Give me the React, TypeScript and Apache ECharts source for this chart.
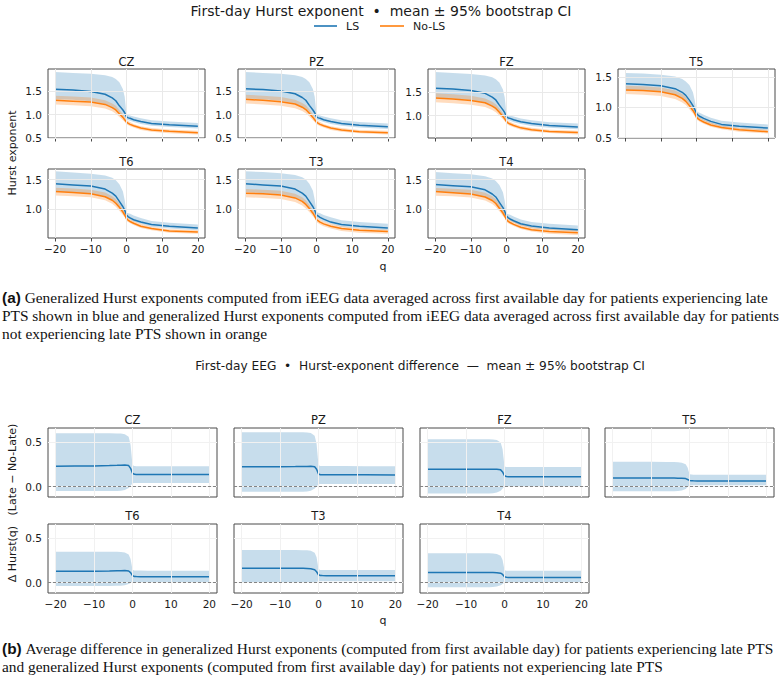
import React, { useEffect, useRef } from "react";
import * as echarts from "echarts";

// ---------- data ----------
const Q = [-20, -15, -10, -6, -4, -3, -2, -1, -0.5, 0, 0.5, 1, 2, 4, 7, 12, 20];
const X_TICKS = [-20, -10, 0, 10, 20];

// Part (a): generalized Hurst exponents, LS (late PTS) vs No-LS
const CZ_LS_MEAN = [1.55, 1.53, 1.50, 1.44, 1.36, 1.30, 1.19, 1.10, 1.04, 0.95, 0.93, 0.92, 0.89, 0.85, 0.81, 0.78, 0.75];
const CZ_LS_HI = [1.92, 1.90, 1.88, 1.85, 1.81, 1.77, 1.70, 1.55, 1.38, 1.00, 0.99, 0.98, 0.96, 0.92, 0.88, 0.85, 0.82];
const CZ_LS_LO = [1.33, 1.32, 1.29, 1.23, 1.16, 1.11, 1.04, 0.97, 0.93, 0.90, 0.88, 0.87, 0.84, 0.80, 0.76, 0.73, 0.70];
const CZ_NO_MEAN = [1.31, 1.29, 1.27, 1.22, 1.15, 1.10, 1.02, 0.94, 0.89, 0.84, 0.81, 0.79, 0.76, 0.71, 0.67, 0.64, 0.61];
const CZ_NO_HI = [1.41, 1.39, 1.37, 1.31, 1.24, 1.19, 1.10, 1.01, 0.95, 0.89, 0.86, 0.84, 0.80, 0.75, 0.71, 0.68, 0.65];
const CZ_NO_LO = [1.22, 1.20, 1.18, 1.13, 1.07, 1.02, 0.95, 0.88, 0.84, 0.79, 0.77, 0.75, 0.72, 0.67, 0.63, 0.60, 0.57];

const PZ_LS_MEAN = [1.56, 1.54, 1.51, 1.45, 1.37, 1.31, 1.20, 1.10, 1.04, 0.95, 0.93, 0.92, 0.89, 0.85, 0.81, 0.77, 0.74];
const PZ_LS_HI = [1.92, 1.90, 1.88, 1.85, 1.81, 1.77, 1.70, 1.55, 1.38, 1.00, 0.99, 0.98, 0.96, 0.92, 0.88, 0.84, 0.81];
const PZ_LS_LO = [1.35, 1.33, 1.30, 1.24, 1.17, 1.12, 1.05, 0.97, 0.93, 0.90, 0.88, 0.87, 0.84, 0.80, 0.76, 0.72, 0.69];
const PZ_NO_MEAN = [1.33, 1.31, 1.28, 1.23, 1.16, 1.11, 1.03, 0.94, 0.89, 0.84, 0.81, 0.79, 0.76, 0.71, 0.67, 0.63, 0.61];
const PZ_NO_HI = [1.43, 1.41, 1.38, 1.32, 1.25, 1.20, 1.11, 1.01, 0.95, 0.89, 0.86, 0.84, 0.80, 0.75, 0.71, 0.67, 0.65];
const PZ_NO_LO = [1.24, 1.22, 1.19, 1.14, 1.08, 1.03, 0.96, 0.88, 0.84, 0.79, 0.77, 0.75, 0.72, 0.67, 0.63, 0.60, 0.57];

const FZ_LS_MEAN = [1.58, 1.56, 1.53, 1.47, 1.39, 1.33, 1.22, 1.12, 1.06, 0.97, 0.95, 0.94, 0.91, 0.87, 0.83, 0.79, 0.76];
const FZ_LS_HI = [1.92, 1.90, 1.88, 1.85, 1.81, 1.77, 1.70, 1.55, 1.38, 1.02, 1.01, 1.00, 0.98, 0.94, 0.90, 0.86, 0.83];
const FZ_LS_LO = [1.38, 1.36, 1.33, 1.27, 1.20, 1.15, 1.07, 0.99, 0.95, 0.92, 0.90, 0.89, 0.86, 0.82, 0.78, 0.74, 0.71];
const FZ_NO_MEAN = [1.37, 1.35, 1.32, 1.27, 1.20, 1.15, 1.07, 0.98, 0.93, 0.87, 0.84, 0.82, 0.79, 0.74, 0.70, 0.66, 0.64];
const FZ_NO_HI = [1.47, 1.45, 1.42, 1.36, 1.29, 1.24, 1.15, 1.05, 0.99, 0.92, 0.89, 0.87, 0.83, 0.78, 0.74, 0.70, 0.68];
const FZ_NO_LO = [1.28, 1.26, 1.23, 1.18, 1.12, 1.07, 1.00, 0.92, 0.88, 0.83, 0.80, 0.78, 0.75, 0.70, 0.66, 0.63, 0.60];

const T5_LS_MEAN = [1.39, 1.38, 1.36, 1.31, 1.25, 1.20, 1.12, 1.03, 0.97, 0.90, 0.87, 0.85, 0.82, 0.77, 0.72, 0.69, 0.66];
const T5_LS_HI = [1.57, 1.56, 1.54, 1.51, 1.47, 1.43, 1.37, 1.25, 1.12, 0.94, 0.92, 0.91, 0.88, 0.83, 0.78, 0.75, 0.72];
const T5_LS_LO = [1.29, 1.28, 1.26, 1.21, 1.15, 1.10, 1.03, 0.96, 0.92, 0.86, 0.83, 0.81, 0.78, 0.73, 0.68, 0.65, 0.62];
const T5_NO_MEAN = [1.29, 1.28, 1.26, 1.21, 1.15, 1.10, 1.03, 0.95, 0.90, 0.84, 0.81, 0.79, 0.76, 0.71, 0.67, 0.63, 0.60];
const T5_NO_HI = [1.36, 1.35, 1.33, 1.28, 1.22, 1.17, 1.09, 1.00, 0.95, 0.88, 0.85, 0.83, 0.80, 0.75, 0.70, 0.66, 0.63];
const T5_NO_LO = [1.22, 1.21, 1.19, 1.14, 1.08, 1.04, 0.97, 0.90, 0.86, 0.80, 0.78, 0.76, 0.73, 0.68, 0.64, 0.60, 0.57];

const T6_LS_MEAN = [1.43, 1.41, 1.39, 1.34, 1.27, 1.22, 1.13, 1.04, 0.98, 0.90, 0.87, 0.85, 0.82, 0.78, 0.74, 0.71, 0.68];
const T6_LS_HI = [1.64, 1.62, 1.60, 1.57, 1.53, 1.49, 1.42, 1.30, 1.15, 0.94, 0.93, 0.92, 0.89, 0.85, 0.80, 0.77, 0.74];
const T6_LS_LO = [1.30, 1.28, 1.26, 1.21, 1.15, 1.10, 1.03, 0.96, 0.92, 0.86, 0.84, 0.82, 0.79, 0.75, 0.70, 0.67, 0.64];
const T6_NO_MEAN = [1.30, 1.28, 1.26, 1.21, 1.15, 1.10, 1.03, 0.95, 0.90, 0.84, 0.81, 0.79, 0.76, 0.71, 0.67, 0.63, 0.61];
const T6_NO_HI = [1.36, 1.35, 1.33, 1.28, 1.22, 1.17, 1.09, 1.00, 0.95, 0.88, 0.85, 0.83, 0.80, 0.75, 0.70, 0.66, 0.64];
const T6_NO_LO = [1.23, 1.22, 1.20, 1.15, 1.09, 1.04, 0.97, 0.90, 0.86, 0.80, 0.78, 0.76, 0.73, 0.68, 0.64, 0.60, 0.58];

const T3_LS_MEAN = [1.43, 1.41, 1.39, 1.34, 1.27, 1.22, 1.13, 1.04, 0.98, 0.90, 0.88, 0.86, 0.83, 0.78, 0.74, 0.71, 0.68];
const T3_LS_HI = [1.64, 1.63, 1.61, 1.58, 1.54, 1.50, 1.43, 1.31, 1.16, 0.95, 0.94, 0.93, 0.90, 0.86, 0.81, 0.78, 0.75];
const T3_LS_LO = [1.29, 1.27, 1.25, 1.20, 1.14, 1.09, 1.02, 0.95, 0.91, 0.86, 0.84, 0.82, 0.79, 0.75, 0.70, 0.67, 0.64];
const T3_NO_MEAN = [1.27, 1.26, 1.24, 1.19, 1.13, 1.08, 1.01, 0.93, 0.88, 0.82, 0.80, 0.78, 0.75, 0.71, 0.67, 0.64, 0.62];
const T3_NO_HI = [1.34, 1.33, 1.31, 1.26, 1.20, 1.15, 1.07, 0.98, 0.93, 0.87, 0.84, 0.82, 0.79, 0.75, 0.71, 0.67, 0.65];
const T3_NO_LO = [1.20, 1.19, 1.17, 1.12, 1.06, 1.01, 0.95, 0.88, 0.84, 0.78, 0.76, 0.74, 0.71, 0.67, 0.63, 0.60, 0.58];

const T4_LS_MEAN = [1.42, 1.40, 1.38, 1.33, 1.26, 1.21, 1.12, 1.03, 0.97, 0.89, 0.86, 0.84, 0.81, 0.76, 0.72, 0.69, 0.66];
const T4_LS_HI = [1.63, 1.61, 1.59, 1.56, 1.52, 1.48, 1.41, 1.29, 1.14, 0.93, 0.92, 0.91, 0.88, 0.83, 0.79, 0.76, 0.73];
const T4_LS_LO = [1.30, 1.28, 1.26, 1.21, 1.15, 1.10, 1.03, 0.95, 0.91, 0.85, 0.83, 0.81, 0.78, 0.73, 0.69, 0.66, 0.63];
const T4_NO_MEAN = [1.30, 1.28, 1.26, 1.21, 1.15, 1.10, 1.02, 0.94, 0.89, 0.83, 0.80, 0.78, 0.75, 0.70, 0.66, 0.63, 0.61];
const T4_NO_HI = [1.36, 1.35, 1.33, 1.28, 1.22, 1.17, 1.09, 1.00, 0.95, 0.88, 0.85, 0.83, 0.80, 0.75, 0.70, 0.67, 0.65];
const T4_NO_LO = [1.23, 1.22, 1.20, 1.15, 1.09, 1.04, 0.97, 0.89, 0.85, 0.79, 0.77, 0.75, 0.72, 0.67, 0.63, 0.59, 0.57];

// Part (b): difference Late − No-Late
const CZ_D_MEAN = [0.228, 0.230, 0.232, 0.236, 0.239, 0.241, 0.243, 0.236, 0.205, 0.150, 0.138, 0.137, 0.137, 0.137, 0.137, 0.137, 0.137];
const CZ_D_HI = [0.598, 0.598, 0.598, 0.597, 0.596, 0.594, 0.588, 0.560, 0.470, 0.240, 0.230, 0.229, 0.229, 0.229, 0.229, 0.229, 0.229];
const CZ_D_LO = [-0.050, -0.050, -0.050, -0.050, -0.049, -0.046, -0.038, -0.015, 0.010, 0.037, 0.040, 0.040, 0.040, 0.040, 0.040, 0.040, 0.040];

const PZ_D_MEAN = [0.222, 0.223, 0.224, 0.225, 0.226, 0.227, 0.228, 0.223, 0.195, 0.142, 0.134, 0.133, 0.133, 0.133, 0.132, 0.132, 0.131];
const PZ_D_HI = [0.610, 0.610, 0.610, 0.609, 0.608, 0.606, 0.600, 0.570, 0.480, 0.240, 0.231, 0.230, 0.230, 0.230, 0.230, 0.229, 0.229];
const PZ_D_LO = [-0.058, -0.058, -0.058, -0.058, -0.057, -0.054, -0.046, -0.022, 0.002, 0.028, 0.031, 0.031, 0.031, 0.031, 0.031, 0.031, 0.031];

const FZ_D_MEAN = [0.195, 0.195, 0.196, 0.196, 0.196, 0.196, 0.195, 0.188, 0.165, 0.122, 0.113, 0.112, 0.112, 0.112, 0.112, 0.111, 0.111];
const FZ_D_HI = [0.532, 0.532, 0.532, 0.531, 0.530, 0.528, 0.522, 0.495, 0.420, 0.225, 0.220, 0.220, 0.219, 0.219, 0.219, 0.219, 0.219];
const FZ_D_LO = [-0.078, -0.078, -0.078, -0.078, -0.077, -0.074, -0.066, -0.045, -0.022, 0.003, 0.005, 0.005, 0.005, 0.005, 0.005, 0.005, 0.005];

const T5_D_MEAN = [0.096, 0.096, 0.096, 0.096, 0.096, 0.095, 0.094, 0.090, 0.080, 0.070, 0.066, 0.065, 0.064, 0.063, 0.063, 0.062, 0.062];
const T5_D_HI = [0.278, 0.278, 0.278, 0.277, 0.276, 0.274, 0.268, 0.250, 0.215, 0.140, 0.135, 0.134, 0.134, 0.133, 0.133, 0.133, 0.133];
const T5_D_LO = [-0.052, -0.052, -0.052, -0.052, -0.051, -0.049, -0.043, -0.025, -0.005, 0.013, 0.015, 0.015, 0.015, 0.015, 0.015, 0.015, 0.015];

const T6_D_MEAN = [0.127, 0.128, 0.129, 0.131, 0.133, 0.134, 0.135, 0.130, 0.112, 0.078, 0.069, 0.068, 0.067, 0.067, 0.067, 0.067, 0.067];
const T6_D_HI = [0.347, 0.347, 0.347, 0.346, 0.345, 0.343, 0.337, 0.315, 0.265, 0.145, 0.136, 0.135, 0.135, 0.134, 0.134, 0.134, 0.134];
const T6_D_LO = [-0.037, -0.037, -0.037, -0.037, -0.036, -0.034, -0.029, -0.015, -0.004, 0.006, 0.007, 0.007, 0.007, 0.007, 0.007, 0.007, 0.007];

const T3_D_MEAN = [0.162, 0.162, 0.162, 0.161, 0.160, 0.158, 0.155, 0.145, 0.122, 0.088, 0.080, 0.079, 0.078, 0.078, 0.078, 0.078, 0.077];
const T3_D_HI = [0.366, 0.366, 0.366, 0.365, 0.364, 0.362, 0.356, 0.335, 0.285, 0.150, 0.143, 0.142, 0.142, 0.142, 0.142, 0.142, 0.142];
const T3_D_LO = [0.000, 0.000, 0.000, 0.000, 0.001, 0.002, 0.004, 0.008, 0.011, 0.014, 0.015, 0.015, 0.015, 0.015, 0.015, 0.015, 0.015];

const T4_D_MEAN = [0.115, 0.115, 0.115, 0.115, 0.115, 0.114, 0.112, 0.106, 0.092, 0.066, 0.060, 0.059, 0.059, 0.059, 0.059, 0.059, 0.059];
const T4_D_HI = [0.330, 0.330, 0.330, 0.329, 0.328, 0.326, 0.320, 0.300, 0.255, 0.140, 0.134, 0.133, 0.133, 0.133, 0.133, 0.133, 0.133];
const T4_D_LO = [-0.052, -0.052, -0.052, -0.052, -0.051, -0.049, -0.043, -0.028, -0.014, -0.002, 0.000, 0.000, 0.000, 0.000, 0.000, 0.000, 0.000];

const ELECTRODES = ["CZ", "PZ", "FZ", "T5", "T6", "T3", "T4"];
const TOP_DATA = [
  [CZ_LS_MEAN, CZ_LS_LO, CZ_LS_HI, CZ_NO_MEAN, CZ_NO_LO, CZ_NO_HI],
  [PZ_LS_MEAN, PZ_LS_LO, PZ_LS_HI, PZ_NO_MEAN, PZ_NO_LO, PZ_NO_HI],
  [FZ_LS_MEAN, FZ_LS_LO, FZ_LS_HI, FZ_NO_MEAN, FZ_NO_LO, FZ_NO_HI],
  [T5_LS_MEAN, T5_LS_LO, T5_LS_HI, T5_NO_MEAN, T5_NO_LO, T5_NO_HI],
  [T6_LS_MEAN, T6_LS_LO, T6_LS_HI, T6_NO_MEAN, T6_NO_LO, T6_NO_HI],
  [T3_LS_MEAN, T3_LS_LO, T3_LS_HI, T3_NO_MEAN, T3_NO_LO, T3_NO_HI],
  [T4_LS_MEAN, T4_LS_LO, T4_LS_HI, T4_NO_MEAN, T4_NO_LO, T4_NO_HI],
];
const BOTTOM_DATA = [
  [CZ_D_MEAN, CZ_D_LO, CZ_D_HI],
  [PZ_D_MEAN, PZ_D_LO, PZ_D_HI],
  [FZ_D_MEAN, FZ_D_LO, FZ_D_HI],
  [T5_D_MEAN, T5_D_LO, T5_D_HI],
  [T6_D_MEAN, T6_D_LO, T6_D_HI],
  [T3_D_MEAN, T3_D_LO, T3_D_HI],
  [T4_D_MEAN, T4_D_LO, T4_D_HI],
];
// y-axis limits of the top panels (each panel autoscaled separately)
const TOP_Y_MIN = [0.495, 0.495, 0.525, 0.495, 0.51, 0.51, 0.52];
const TOP_Y_MAX = [1.985, 1.985, 1.985, 1.635, 1.68, 1.68, 1.68];
const TOP_Y_TICKS = [0.5, 1.0, 1.5, 2.0];
const BOT_Y_MIN = -0.116;
const BOT_Y_MAX = 0.657;
const BOT_Y_TICKS = [0.0, 0.5];

// ---------- styling ----------
const BLUE = "#1f77b4";
const ORANGE = "#ff7f0e";
const BLUE_FILL = "rgba(31,119,180,0.25)";
const ORANGE_FILL = "rgba(255,127,14,0.27)";
const SANS = "DejaVu Sans";
const SERIF = "Liberation Serif";
const SPINE = "#4a4a4a";
const TXT = "#1a1a1a";
const TICK_FS = 10.5;
const CAP_FS = 15.4;

const fmt = (v: number, d: number) => {
  const s = Math.abs(v).toFixed(d);
  return v < 0 ? "\u2212" + s : s;
};

function buildOption() {
  const grid: any[] = [];
  const xAxis: any[] = [];
  const yAxis: any[] = [];
  const series: any[] = [];
  const graphic: any[] = [];

  const addPanel = (
    gi: number,
    left: number,
    top: number,
    width: number,
    height: number,
    yMin: number,
    yMax: number,
    yTicks: number[],
    showX: boolean,
    showY: boolean,
    gridColor: string
  ) => {
    grid.push({
      left,
      top,
      width,
      height,
      show: true,
      borderColor: SPINE,
      borderWidth: 1,
      backgroundColor: "transparent",
      containLabel: false,
    });
    xAxis.push({
      gridIndex: gi,
      type: "value",
      min: -22,
      max: 22,
      axisLine: { show: false },
      splitLine: { show: false },
      axisTick: {
        show: true,
        customValues: X_TICKS,
        length: 3.5,
        lineStyle: { color: SPINE, width: 1 },
      },
      axisLabel: {
        show: showX,
        customValues: X_TICKS,
        formatter: (v: number) => fmt(v, 0),
        fontSize: TICK_FS,
        fontFamily: SANS,
        color: TXT,
        margin: 5,
      },
    });
    yAxis.push({
      gridIndex: gi,
      type: "value",
      min: yMin,
      max: yMax,
      axisLine: { show: false },
      splitLine: { show: false },
      axisTick: {
        show: true,
        customValues: yTicks,
        length: 3.5,
        lineStyle: { color: SPINE, width: 1 },
      },
      axisLabel: {
        show: showY,
        customValues: yTicks,
        formatter: (v: number) => fmt(v, 1),
        fontSize: TICK_FS,
        fontFamily: SANS,
        color: TXT,
        margin: 6,
      },
    });
    return [
      ...X_TICKS.map((v) => ({ xAxis: v, lineStyle: { color: gridColor, width: 1, type: "solid" } })),
      ...yTicks.map((v) => ({ yAxis: v, lineStyle: { color: gridColor, width: 1, type: "solid" } })),
    ];
  };

  const band = (gi: number, lo: number[], hi: number[], fill: string, mid: number) => ({
    type: "custom",
    xAxisIndex: gi,
    yAxisIndex: gi,
    silent: true,
    data: [[0, mid]],
    renderItem: (_p: any, api: any) => {
      const pts: number[][] = [];
      for (let k = 0; k < Q.length; k++) pts.push(api.coord([Q[k], hi[k]]));
      for (let k = Q.length - 1; k >= 0; k--) pts.push(api.coord([Q[k], lo[k]]));
      return { type: "polygon", shape: { points: pts }, style: { fill } };
    },
  });

  const line = (gi: number, vals: number[], color: string, markData?: any[]) => {
    const s: any = {
      type: "line",
      xAxisIndex: gi,
      yAxisIndex: gi,
      silent: true,
      symbol: "none",
      showSymbol: false,
      data: Q.map((q, k) => [q, vals[k]]),
      lineStyle: { color, width: 1.5 },
      itemStyle: { color },
    };
    if (markData) {
      s.markLine = {
        silent: true,
        symbol: ["none", "none"],
        label: { show: false },
        animation: false,
        data: markData,
      };
    }
    return s;
  };

  // ---- top figure (a) ----
  const TOP_LEFTS = [48, 238, 428, 618];
  const TOP_TOPS = [69, 169];
  const TOP_W = 157;
  const TOP_H = 69;
  ELECTRODES.forEach((name, i) => {
    const row = i < 4 ? 0 : 1;
    const col = i < 4 ? i : i - 4;
    const left = TOP_LEFTS[col];
    const top = TOP_TOPS[row];
    const yMin = TOP_Y_MIN[i];
    const yMax = TOP_Y_MAX[i];
    const yt = TOP_Y_TICKS.filter((v) => v >= yMin && v <= yMax);
    const gi = grid.length;
    const marks = addPanel(gi, left, top, TOP_W, TOP_H, yMin, yMax, yt, row === 1, true, "#e9e9e9");
    const [lm, ll, lh, nm, nl, nh] = TOP_DATA[i];
    const mid = (yMin + yMax) / 2;
    series.push(band(gi, ll, lh, BLUE_FILL, mid));
    series.push(line(gi, lm, BLUE, marks));
    series.push(band(gi, nl, nh, ORANGE_FILL, mid));
    series.push(line(gi, nm, ORANGE));
    graphic.push({
      type: "text",
      x: left + TOP_W / 2,
      y: top - 7,
      style: { text: name, fontSize: 11.5, fontFamily: SANS, fill: TXT, align: "center", verticalAlign: "middle" },
    });
  });

  // ---- bottom figure (b) ----
  const BOT_LEFTS = [48, 234, 420, 605];
  const BOT_TOPS = [428, 524];
  const BOT_W = 169;
  const BOT_H = 69;
  ELECTRODES.forEach((name, i) => {
    const row = i < 4 ? 0 : 1;
    const col = i < 4 ? i : i - 4;
    const left = BOT_LEFTS[col];
    const top = BOT_TOPS[row];
    const gi = grid.length;
    const marks = addPanel(gi, left, top, BOT_W, BOT_H, BOT_Y_MIN, BOT_Y_MAX, BOT_Y_TICKS, row === 1, col === 0, "#f1f1f1");
    marks.push({ yAxis: 0, lineStyle: { color: "#777", width: 0.9, type: [3, 2] } });
    const [dm, dl, dh] = BOTTOM_DATA[i];
    series.push(band(gi, dl, dh, BLUE_FILL, 0.2));
    series.push(line(gi, dm, BLUE, marks));
    graphic.push({
      type: "text",
      x: left + BOT_W / 2,
      y: top - 8,
      style: { text: name, fontSize: 11.5, fontFamily: SANS, fill: TXT, align: "center", verticalAlign: "middle" },
    });
  });

  // ---- titles, legend, axis labels ----
  graphic.push({
    type: "text",
    x: 381,
    y: 11,
    style: {
      text: "First-day Hurst exponent  \u2022  mean \u00b1 95% bootstrap CI",
      fontSize: 14,
      fontFamily: SANS,
      fill: TXT,
      align: "center",
      verticalAlign: "middle",
    },
  });
  graphic.push({ type: "line", shape: { x1: 314, y1: 26, x2: 337, y2: 26 }, style: { stroke: BLUE, lineWidth: 1.6 } });
  graphic.push({
    type: "text",
    x: 346,
    y: 26,
    style: { text: "LS", fontSize: 11, fontFamily: SANS, fill: TXT, align: "left", verticalAlign: "middle" },
  });
  graphic.push({ type: "line", shape: { x1: 380, y1: 26, x2: 404, y2: 26 }, style: { stroke: ORANGE, lineWidth: 1.6 } });
  graphic.push({
    type: "text",
    x: 413,
    y: 26,
    style: { text: "No-LS", fontSize: 11, fontFamily: SANS, fill: TXT, align: "left", verticalAlign: "middle" },
  });
  graphic.push({
    type: "text",
    x: 12,
    y: 153,
    rotation: Math.PI / 2,
    style: { text: "Hurst exponent", fontSize: 11, fontFamily: SANS, fill: TXT, align: "center", verticalAlign: "middle" },
  });
  graphic.push({
    type: "text",
    x: 383,
    y: 266,
    style: { text: "q", fontSize: 11, fontFamily: SANS, fill: TXT, align: "center", verticalAlign: "middle" },
  });

  graphic.push({
    type: "text",
    x: 420,
    y: 366,
    style: {
      text: "First-day EEG  \u2022  Hurst-exponent difference  \u2014  mean \u00b1 95% bootstrap CI",
      fontSize: 12.2,
      fontFamily: SANS,
      fill: TXT,
      align: "center",
      verticalAlign: "middle",
    },
  });
  graphic.push({
    type: "text",
    x: 12,
    y: 503,
    rotation: Math.PI / 2,
    style: {
      text: "\u0394 Hurst(q)   (Late \u2212 No-Late)",
      fontSize: 11,
      fontFamily: SANS,
      fill: TXT,
      align: "center",
      verticalAlign: "middle",
    },
  });
  graphic.push({
    type: "text",
    x: 383,
    y: 620,
    style: { text: "q", fontSize: 11, fontFamily: SANS, fill: TXT, align: "center", verticalAlign: "middle" },
  });

  // ---- captions ----
  const caption = (y: number, tag: string, body: string) => ({
    type: "text",
    x: 2,
    y,
    style: {
      text: (tag ? "{b|" + tag + "} " : "") + "{r|" + body + "}",
      rich: {
        b: { fontFamily: "Liberation Sans", fontWeight: "bold", fontSize: CAP_FS, fill: "#111" },
        r: { fontFamily: SERIF, fontSize: CAP_FS, fill: "#111" },
      },
      fontFamily: SERIF,
      fontSize: CAP_FS,
      fill: "#111",
      align: "left",
      verticalAlign: "middle",
    },
  });
  graphic.push(
    caption(297, "(a)", "Generalized Hurst exponents computed from iEEG data averaged across first available day for patients experiencing late")
  );
  graphic.push(
    caption(315, "", "PTS shown in blue and generalized Hurst exponents computed from iEEG data averaged across first available day for patients")
  );
  graphic.push(caption(333, "", "not experiencing late PTS shown in orange"));
  graphic.push(
    caption(648, "(b)", "Average difference in generalized Hurst exponents (computed from first available day) for patients experiencing late PTS")
  );
  graphic.push(
    caption(666, "", "and generalized Hurst exponents (computed from first available day) for patients not experiencing late PTS")
  );

  return {
    animation: false,
    backgroundColor: "#ffffff",
    grid,
    xAxis,
    yAxis,
    series,
    graphic,
  };
}

export default function App() {
  const ref = useRef<HTMLDivElement | null>(null);
  useEffect(() => {
    if (!ref.current) return;
    const chart = echarts.init(ref.current, null, { renderer: "svg" });
    chart.setOption(buildOption() as any);
    return () => chart.dispose();
  }, []);
  return (
    <div
      ref={ref}
      style={{ position: "fixed", left: 0, top: 0, width: 780, height: 680, background: "#fff" }}
    />
  );
}
